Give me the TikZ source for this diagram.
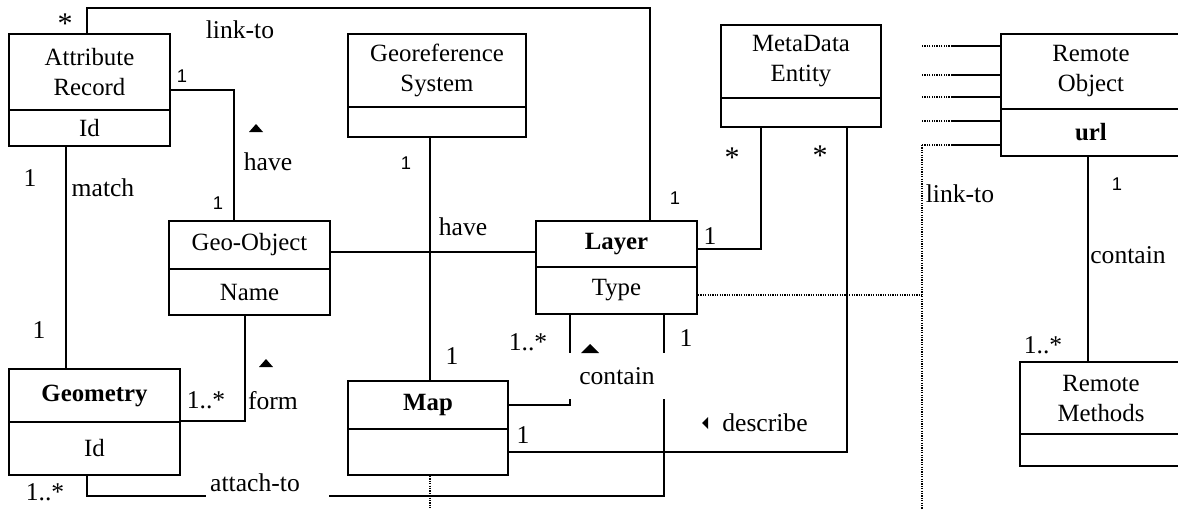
\documentclass[tikz,border=0pt]{standalone}
\usepackage{fontspec}
\setmainfont{Liberation Serif}
\newfontfamily\lsans{Liberation Sans}
\begin{document}
\begin{tikzpicture}[x=0.5pt,y=-0.5pt,line width=1pt,
  box/.style={draw,line width=1pt,inner sep=0pt,anchor=north west,align=center,font=\fontsize{12.4}{15}\selectfont},
  lbl/.style={inner sep=0pt,font=\fontsize{12.8}{15}\selectfont},
  ast/.style={inner sep=0pt,font=\fontsize{15}{15}\selectfont},
  sml/.style={inner sep=0pt,font=\lsans\fontsize{9.2}{10}\selectfont},
  dotl/.style={line width=0.6pt,dash pattern=on 0.6pt off 0.6pt},
  tri/.style={fill=black,draw=none}]
\useasboundingbox (0,0) rectangle (1178,509);

% classes
\node[box,minimum width=80.5pt,minimum height=38pt] (ar) at (8,33) {Attribute\\Record};
\node[box,minimum width=80.5pt,minimum height=18pt] (ara) at (8,109) {Id};
\node[box,minimum width=89pt,minimum height=36.5pt] (gs) at (347,33) {Georeference\\System};
\node[box,minimum width=89pt,minimum height=15pt] (gsa) at (347,106) {};
\node[box,minimum width=80pt,minimum height=36.5pt] (md) at (720,24) {MetaData\\Entity};
\node[box,minimum width=80pt,minimum height=14.5pt] (mda) at (720,97) {};
\node[box,minimum width=90pt,minimum height=37.5pt] (ro) at (1000,33) {Remote\\Object};
\node[box,minimum width=90pt,minimum height=23.5pt] (roa) at (1000,108) {\textbf{url}};
\node[box,minimum width=80.5pt,minimum height=24pt] (geo) at (168,220) {Geo-Object};
\node[box,minimum width=80.5pt,minimum height=23pt] (geoa) at (168,268) {Name};
\node[box,minimum width=80.5pt,minimum height=23pt] (lay) at (535,220) {\textbf{Layer}};
\node[box,minimum width=80.5pt,minimum height=23.5pt] (laya) at (535,266) {Type};
\node[box,minimum width=85.5pt,minimum height=26.5pt] (geom) at (8,368) {\textbf{Geometry}};
\node[box,minimum width=85.5pt,minimum height=26.5pt] (geoma) at (8,421) {Id};
\node[box,minimum width=80pt,minimum height=24pt] (map) at (347,380) {\textbf{Map}};
\node[box,minimum width=80pt,minimum height=23pt] (mapa) at (347,428) {};
\node[box,minimum width=81pt,minimum height=36pt] (rm) at (1019,361) {Remote\\Methods};
\node[box,minimum width=81pt,minimum height=16pt] (rma) at (1019,433) {};

% connectors
\draw ([xshift=39.5pt]ar.north west) -- ++(0,-25) -| ([xshift=57.5pt]lay.north west);
\draw ([yshift=-9pt]ar.east) -| ([xshift=33pt]geo.north west);
\draw ([xshift=29pt]ara.south west) -- ([xshift=29pt]geom.north west);
\draw ([xshift=38.5pt]geoa.south west) |- (geoma.north east);
\draw ([yshift=-3.5pt]geo.east) -- ([yshift=-3.5pt]geo.east -| lay.west);
\draw ([xshift=41.5pt]gsa.south west) -- ([xshift=41.5pt]map.north west);
\draw ([xshift=20.5pt]mda.south west) |- ([yshift=-2.5pt]lay.east);
\draw ([xshift=63.5pt]mda.south west) |- (mapa.east);
\draw ([xshift=17.5pt]laya.south west) |- (map.east);
\draw ([xshift=64.5pt]laya.south west) |- ([xshift=39.5pt,yshift=-10pt]geoma.south west) -- ([xshift=39.5pt]geoma.south west);
\draw ([xshift=44pt]roa.south west) -- ([xshift=34.5pt]rm.north west);

% remote object stubs
\foreach \yy/\n in {46/a,75/b,97/c,121/d,145/e}{
  \coordinate (s\n) at (952,\yy);
  \draw (s\n) -- (s\n -| ro.west);
  \draw[dotl] (s\n) -- ++(-30,0);
}
\coordinate (lk) at (922,145);
\coordinate (lkend) at (922,509);
\draw[dotl] (lk) -- (lkend);
\draw[dotl] ([yshift=-2.25pt]laya.east) -- ([yshift=-2.25pt]laya.east -| lk);
\coordinate (mapend) at (430,509);
\draw[dotl] ([xshift=41.5pt]mapa.south west) -- (mapend);

% labels
\node[ast] (l1) at (65,24) {*};
\node[lbl] (l2) at (240,30) {link-to};
\node[sml] (l3) at (182,76) {1};
\fill[tri] (249,132) -- (263,132) -- (256,124) -- cycle;
\node[lbl] (l4) at (268,162) {have};
\node[sml] (l5) at (218,203) {1};
\node[lbl] (l6) at (30,178) {1};
\node[lbl] (l7) at (103,188) {match};
\node[lbl] (l8) at (39,330) {1};
\node[sml] (l9) at (406,163) {1};
\node[lbl] (l10) at (463,227) {have};
\node[sml] (l11) at (675,198) {1};
\node[lbl] (l12) at (710,236) {1};
\node[ast] (l13) at (732,158) {*};
\node[ast] (l14) at (820,156) {*};
\node[lbl] (l15) at (960,194) {link-to};
\node[sml] (l16) at (1117,184) {1};
\node[lbl] (l17) at (1128,255) {contain};
\node[lbl] (l18) at (1043,345) {1..*};
\fill[tri] (259,367) -- (273,367) -- (266,359) -- cycle;
\node[lbl] (l19) at (273,401) {form};
\node[lbl] (l20) at (206,400) {1..*};
\node[lbl] (l21) at (45,492) {1..*};
\node[lbl] (l22) at (528,342) {1..*};
\node[lbl,fill=white,minimum width=52pt,minimum height=23pt] (l23) at (617,376) {contain};
\fill[tri] (581,353) -- (599,353) -- (590,344) -- cycle;
\node[lbl] (l24) at (686,338) {1};
\node[lbl] (l25) at (452,356) {1};
\node[lbl] (l26) at (523,435) {1};
\fill[tri] (702,423) -- (708,417) -- (708,429) -- cycle;
\node[lbl] (l27) at (765,423) {describe};
\node[lbl,fill=white,minimum width=61.5pt,minimum height=22pt] (l28) at (267,483) {attach-to\hspace*{12pt}};
\end{tikzpicture}
\end{document}
